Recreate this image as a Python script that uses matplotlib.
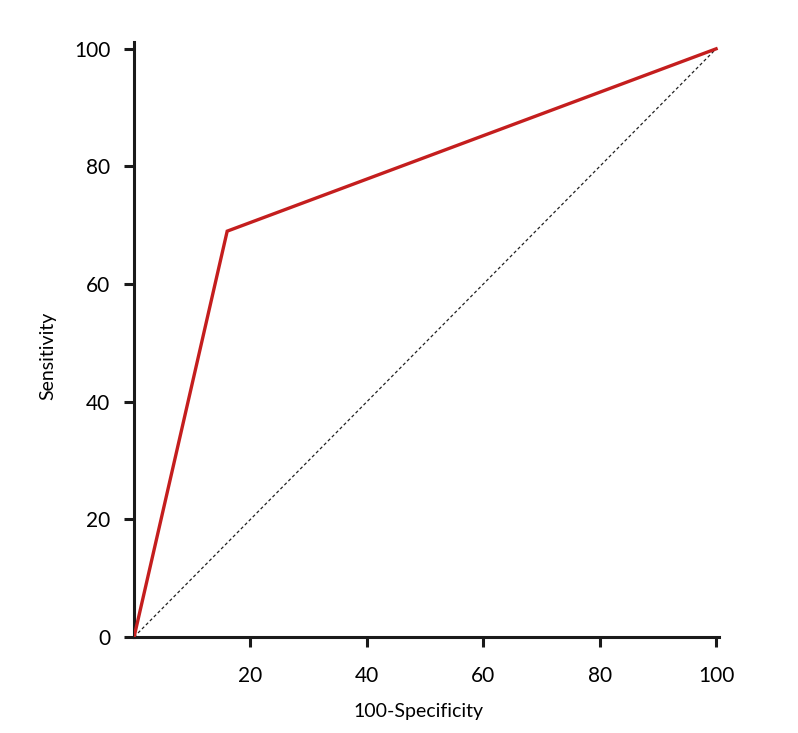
import matplotlib
matplotlib.use("Agg")
import matplotlib.pyplot as plt

fpr = [0, 16, 100]
tpr = [0, 69, 100]
ref_x = [0, 100]
ref_y = [0, 100]
xticks = [20, 40, 60, 80, 100]
yticks = [0, 20, 40, 60, 80, 100]

plt.rcParams['font.family'] = ['Lato', 'DejaVu Sans']

fig = plt.figure(figsize=(7.98, 7.33), dpi=100)
ax = fig.add_axes([0.168, 0.131, 0.733, 0.812])
ax.plot(ref_x, ref_y, color='#222222', lw=0.9, ls=(0, (2.5, 2)), zorder=2)
ax.plot(fpr, tpr, color='#c41e1e', lw=2.4, zorder=3, solid_joinstyle='miter')
ax.set_xlim(0, 100.5)
ax.set_ylim(0, 101.2)
ax.set_xticks(xticks)
ax.set_yticks(yticks)
ax.set_xticklabels([str(v) for v in xticks])
ax.set_yticklabels([str(v) for v in yticks])
for s in ['top', 'right']:
    ax.spines[s].set_visible(False)
for s in ['left', 'bottom']:
    ax.spines[s].set_linewidth(2.2)
    ax.spines[s].set_color('#1a1a1a')
ax.tick_params(direction='out', length=7, width=2.2, color='#1a1a1a', labelsize=15)
ax.tick_params(axis='x', pad=14)
ax.tick_params(axis='y', pad=10)
ax.set_xlabel('100-Specificity', fontsize=14, va='center')
ax.set_ylabel('Sensitivity', fontsize=14, va='center')
ax.xaxis.set_label_coords(0.486, -0.126)
ax.yaxis.set_label_coords(-0.147, 0.472)
fig.savefig('out.png', dpi=100)
